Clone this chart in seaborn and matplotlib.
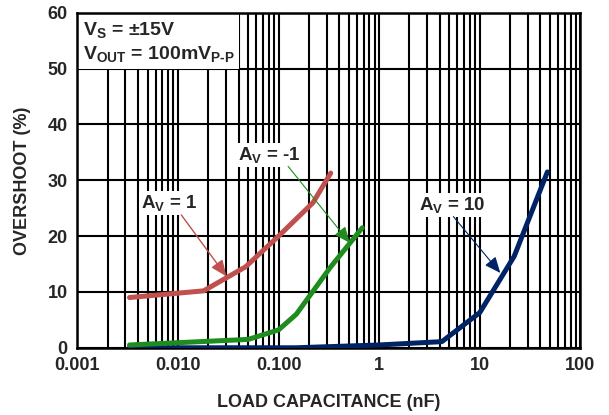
import numpy as np
import pandas as pd
import matplotlib
matplotlib.use("Agg")
import matplotlib.pyplot as plt
import seaborn as sns
from matplotlib.patches import Rectangle

# values
cap_av1 = [0.0033, 0.018, 0.047, 0.1, 0.22, 0.33]
ovs_av1 = [9.0, 10.2, 14.5, 20.0, 26.0, 31.3]

cap_avm1 = [0.0033, 0.05, 0.1, 0.15, 0.33, 0.68]
ovs_avm1 = [0.5, 1.5, 3.2, 6.0, 14.5, 21.5]

cap_av10 = [0.0033, 0.15, 1.0, 4.2, 10.0, 22.0, 47.0]
ovs_av10 = [0.0, 0.0, 0.5, 1.1, 6.3, 16.4, 31.5]

x_ticks = [0.001, 0.01, 0.1, 1, 10, 100]
x_tick_labels = ["0.001", "0.010", "0.100", "1", "10", "100"]
y_ticks = [0, 10, 20, 30, 40, 50, 60]

red = "#C0504D"
green = "#1E8C1E"
navy = "#002366"

sns.set_style("white")
plt.rcParams["font.family"] = ["Liberation Sans", "DejaVu Sans"]
plt.rcParams["font.weight"] = "bold"
plt.rcParams["mathtext.fontset"] = "custom"
plt.rcParams["mathtext.rm"] = "Liberation Sans:bold"
plt.rcParams["mathtext.bf"] = "Liberation Sans:bold"
plt.rcParams["mathtext.it"] = "Liberation Sans:bold"

fig = plt.figure(figsize=(6.09, 4.15), dpi=100)
ax = fig.add_axes([0.127, 0.162, 0.826, 0.807])

df1 = pd.DataFrame({"cap": cap_av1, "ovs": ovs_av1})
dfm1 = pd.DataFrame({"cap": cap_avm1, "ovs": ovs_avm1})
df10 = pd.DataFrame({"cap": cap_av10, "ovs": ovs_av10})

sns.lineplot(data=df10, x="cap", y="ovs", color=navy, lw=3.6, ax=ax, zorder=3)
sns.lineplot(data=dfm1, x="cap", y="ovs", color=green, lw=3.6, ax=ax, zorder=3)
sns.lineplot(data=df1, x="cap", y="ovs", color=red, lw=3.6, ax=ax, zorder=3)

ax.set_xscale("log")
ax.set_xlim(0.001, 100)
ax.set_ylim(0, 60)
ax.set_xticks(x_ticks)
ax.set_xticklabels(x_tick_labels)
ax.set_yticks(y_ticks)
ax.tick_params(axis="both", which="both", length=0, labelsize=13, pad=7)
ax.xaxis.set_minor_locator(matplotlib.ticker.LogLocator(base=10, subs=np.arange(2, 10)))
ax.xaxis.set_minor_formatter(matplotlib.ticker.NullFormatter())
for lab in ax.get_xticklabels() + ax.get_yticklabels():
    lab.set_fontweight("bold")

ax.set_axisbelow(True)
ax.grid(True, which="major", color="black", lw=1.5)
ax.grid(True, which="minor", axis="x", color="black", lw=1.5)
for sp in ax.spines.values():
    sp.set_color("black")
    sp.set_linewidth(1.8)

ax.set_xlabel("LOAD CAPACITANCE (nF)", fontsize=13, fontweight="bold", labelpad=14)
ax.set_ylabel("OVERSHOOT (%)", fontsize=13, fontweight="bold", labelpad=12)

# white box with the test conditions
ax.add_patch(Rectangle((0.001, 50), 0.039, 10, facecolor="white", edgecolor="none", zorder=1))
ax.text(0.012, 0.948, r"V$_\mathrm{S}$ = ±15V", transform=ax.transAxes,
        fontsize=14, fontweight="bold", va="center", ha="left", zorder=4)
ax.text(0.012, 0.878, r"V$_\mathrm{OUT}$ = 100mV$_\mathrm{P\text{-}P}$", transform=ax.transAxes,
        fontsize=14, fontweight="bold", va="center", ha="left", zorder=4)

box = dict(facecolor="white", edgecolor="none", pad=1.5)
ax.text(0.0081, 26.0, r"A$_\mathrm{V}$ = 1", fontsize=13.5, fontweight="bold",
        ha="center", va="center", bbox=box, zorder=4)
ax.text(0.08, 34.6, r"A$_\mathrm{V}$ = -1", fontsize=13.5, fontweight="bold",
        ha="center", va="center", bbox=box, zorder=4)
ax.text(5.3, 25.5, r"A$_\mathrm{V}$ = 10", fontsize=13.5, fontweight="bold",
        ha="center", va="center", bbox=box, zorder=4)

arrow_style = "-|>,head_length=0.7,head_width=0.3"
ax.annotate("", xy=(0.0303, 12.8), xytext=(0.0108, 23.8),
            arrowprops=dict(arrowstyle=arrow_style, color=red, lw=1.0, mutation_scale=14,
                            shrinkA=0, shrinkB=0), zorder=5)
ax.annotate("", xy=(0.51, 18.8), xytext=(0.1245, 32.5),
            arrowprops=dict(arrowstyle=arrow_style, color=green, lw=0.8, mutation_scale=14,
                            shrinkA=0, shrinkB=0), zorder=5)
ax.annotate("", xy=(16, 13.4), xytext=(5.47, 23.5),
            arrowprops=dict(arrowstyle=arrow_style, color=navy, lw=0.8, mutation_scale=14,
                            shrinkA=0, shrinkB=0), zorder=5)

fig.savefig("out.png", dpi=100)
